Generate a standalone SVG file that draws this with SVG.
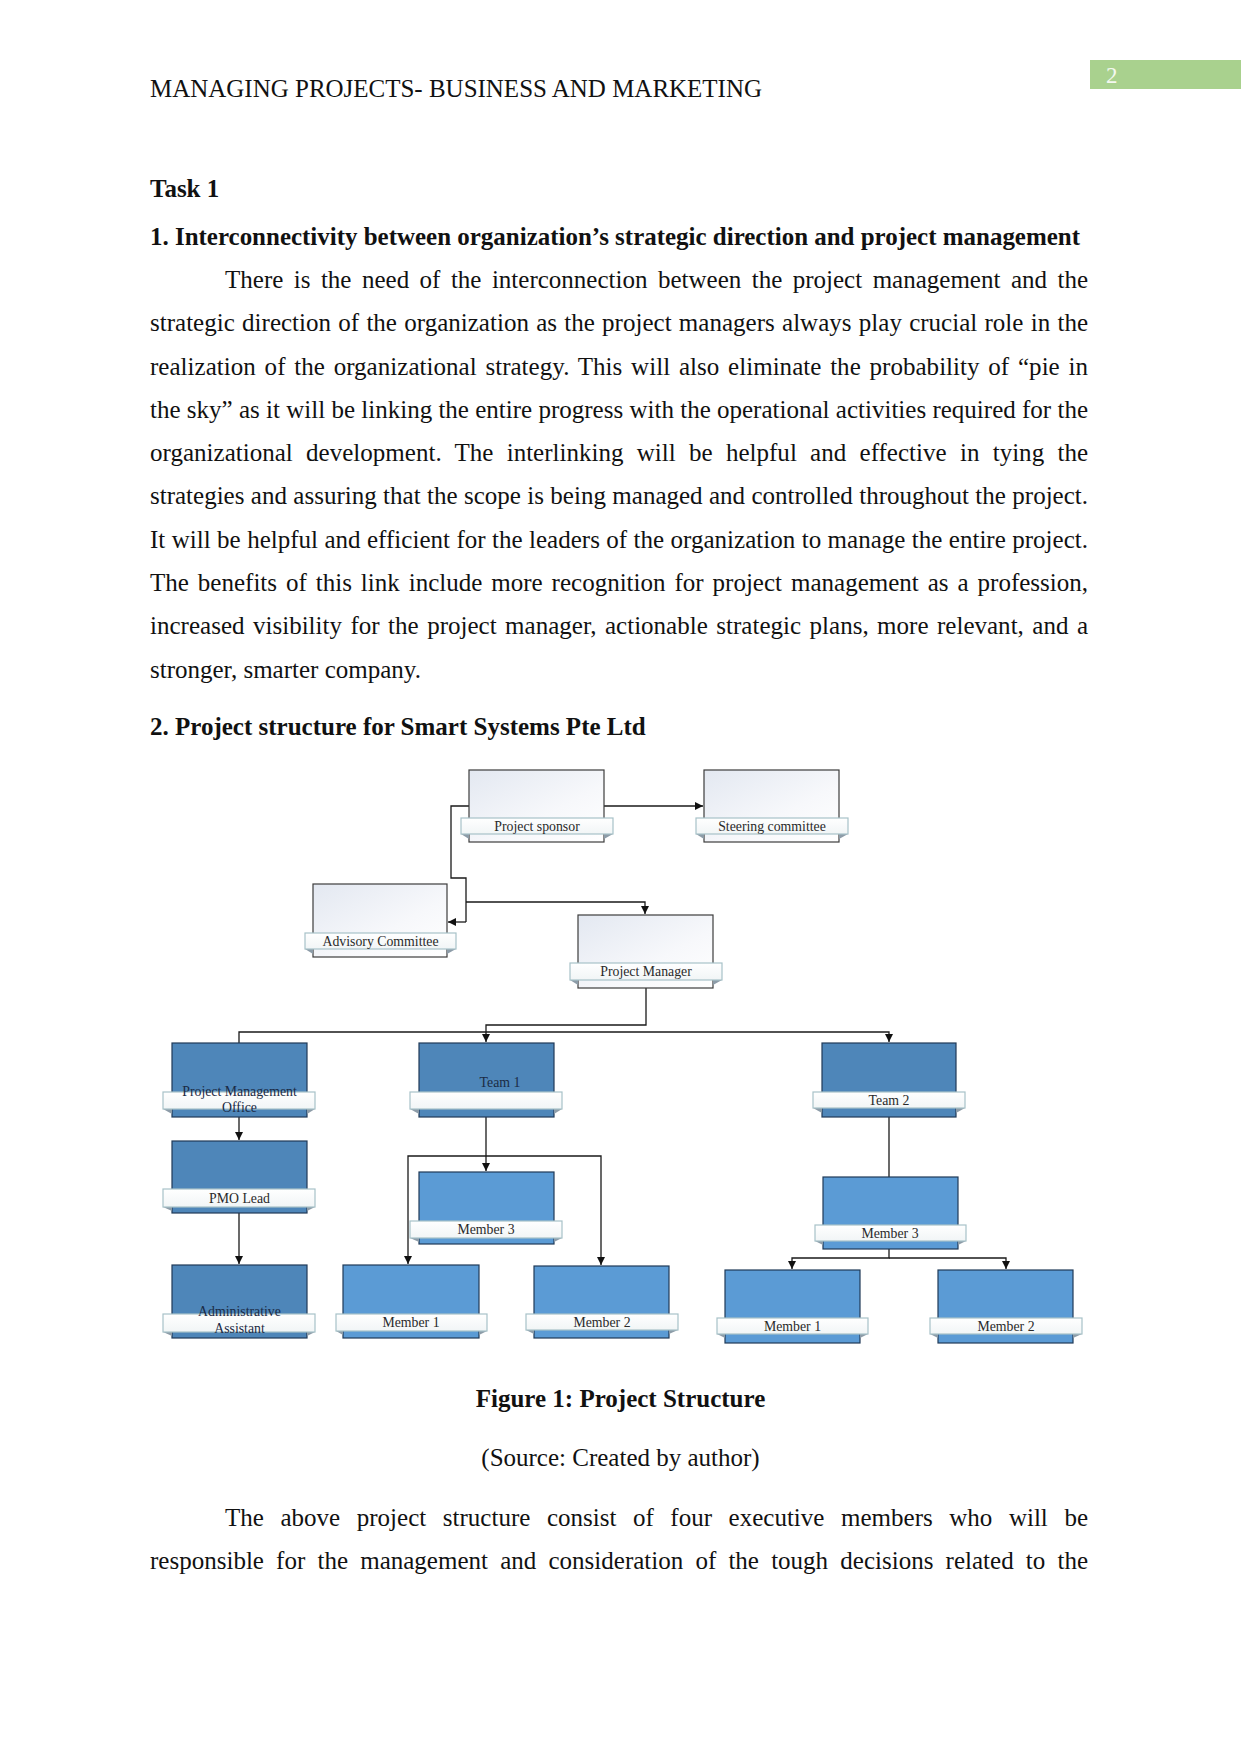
<svg xmlns="http://www.w3.org/2000/svg" width="1241" height="1754" viewBox="0 0 1241 1754">
<style>
.b{font-family:"Liberation Serif","Times New Roman",serif;font-size:25px;fill:#111}
.bb{font-family:"Liberation Serif","Times New Roman",serif;font-size:25px;font-weight:bold;fill:#111}
.lbl{font-family:"Liberation Serif","Times New Roman",serif;font-size:13.8px;fill:#2a2a2a;text-anchor:middle}
.lbd{font-family:"Liberation Serif","Times New Roman",serif;font-size:13.8px;fill:#1b2b45;text-anchor:middle}
.wbox{fill:url(#gw);stroke:#3c3c3c;stroke-width:1.2}
.dbox{fill:#4e86b9;stroke:#203a58;stroke-width:1.2}
.lbox{fill:#5b9bd5;stroke:#203a58;stroke-width:1.2}
.band{fill:url(#gb);stroke:#a7c2c8;stroke-width:1.2}
.fold{fill:#8d9ca8}
.con path{fill:none;stroke:#1a1a1a;stroke-width:1.3}
.con path.a{marker-end:url(#ah)}
</style>
<defs>
<linearGradient id="gw" x1="0" y1="0" x2="1" y2="1">
<stop offset="0" stop-color="#e3e8f1"/><stop offset="0.6" stop-color="#f7f8fb"/><stop offset="1" stop-color="#ffffff"/>
</linearGradient>
<linearGradient id="gb" x1="0" y1="0" x2="0" y2="1">
<stop offset="0" stop-color="#ffffff"/><stop offset="1" stop-color="#f1f5f6"/>
</linearGradient>
<marker id="ah" viewBox="0 0 10 10" refX="10" refY="5" markerWidth="9" markerHeight="8" markerUnits="userSpaceOnUse" orient="auto">
<path d="M0,0 L10,5 L0,10 z" fill="#111"/>
</marker>
</defs>
<rect width="1241" height="1754" fill="#ffffff"/>

<g id="page-header">
<rect x="1090" y="60" width="151" height="29" fill="#a9d18e"/>
<text x="1106" y="83" font-family="Liberation Serif, serif" font-size="23" fill="#f4f8f0">2</text>
<text class="b" x="150" y="97" textLength="612" lengthAdjust="spacingAndGlyphs">MANAGING PROJECTS- BUSINESS AND MARKETING</text>
</g>

<g id="body-text">
<text class="bb" x="150" y="197">Task 1</text>
<text class="bb" x="150" y="245" textLength="930" lengthAdjust="spacingAndGlyphs">1. Interconnectivity between organization’s strategic direction and project management</text>
<text class="b" x="225" y="288" word-spacing="4.2" textLength="863" lengthAdjust="spacing">There is the need of the interconnection between the project management and the</text>
<text class="b" x="150" y="331.2" word-spacing="1.0" textLength="938" lengthAdjust="spacing">strategic direction of the organization as the project managers always play crucial role in the</text>
<text class="b" x="150" y="374.5" word-spacing="2.5" textLength="938" lengthAdjust="spacing">realization of the organizational strategy. This will also eliminate the probability of “pie in</text>
<text class="b" x="150" y="417.8" textLength="938" lengthAdjust="spacing">the sky” as it will be linking the entire progress with the operational activities required for the</text>
<text class="b" x="150" y="461" word-spacing="7.0" textLength="938" lengthAdjust="spacing">organizational development. The interlinking will be helpful and effective in tying the</text>
<text class="b" x="150" y="504.3" word-spacing="0.15" textLength="938" lengthAdjust="spacing">strategies and assuring that the scope is being managed and controlled throughout the project.</text>
<text class="b" x="150" y="547.6" word-spacing="0.15" textLength="938" lengthAdjust="spacing">It will be helpful and efficient for the leaders of the organization to manage the entire project.</text>
<text class="b" x="150" y="590.9" word-spacing="2.7" textLength="938" lengthAdjust="spacing">The benefits of this link include more recognition for project management as a profession,</text>
<text class="b" x="150" y="634.2" word-spacing="2.2" textLength="938" lengthAdjust="spacing">increased visibility for the project manager, actionable strategic plans, more relevant, and a</text>
<text class="b" x="150" y="677.5">stronger, smarter company.</text>
<text class="bb" x="150" y="735">2. Project structure for Smart Systems Pte Ltd</text>
<text class="bb" x="620.5" y="1407" text-anchor="middle">Figure 1: Project Structure</text>
<text class="b" x="620.5" y="1466" text-anchor="middle">(Source: Created by author)</text>
<text class="b" x="225" y="1526" word-spacing="10.3" textLength="863" lengthAdjust="spacing">The above project structure consist of four executive members who will be</text>
<text class="b" x="150" y="1569" word-spacing="5.9" textLength="938" lengthAdjust="spacing">responsible for the management and consideration of the tough decisions related to the</text>
</g>

<g id="connectors" class="con">
<path class="a" d="M604,806 H703"/>
<path d="M469,806 H451 V878 H466 V922"/>
<path class="a" d="M466,922 H448"/>
<path class="a" d="M466,902 H645 V914"/>
<path class="a" d="M646,988 V1025 H486 V1042"/>
<path d="M239,1043 V1032 H486"/>
<path class="a" d="M486,1032 H889 V1042"/>
<path class="a" d="M239,1117 V1140"/>
<path class="a" d="M239,1213 V1264"/>
<path class="a" d="M486,1117 V1171"/>
<path class="a" d="M486,1156 H408 V1264"/>
<path class="a" d="M486,1156 H601 V1265"/>
<path d="M889,1117 V1177"/>
<path class="a" d="M889,1249 V1258 H792 V1269"/>
<path class="a" d="M889,1258 H1006 V1269"/>
</g>

<g id="node-project-sponsor">
<rect class="wbox" x="469" y="770" width="135" height="72"/>
<polygon class="fold" points="461,834 469,834 469,839"/><polygon class="fold" points="613,834 604,834 604,839"/>
<rect class="band" x="461" y="818" width="152" height="16"/>
<text class="lbl" x="537" y="830.5">Project sponsor</text>
</g>
<g id="node-steering-committee">
<rect class="wbox" x="704" y="770" width="135" height="72"/>
<polygon class="fold" points="696,834 704,834 704,839"/><polygon class="fold" points="848,834 839,834 839,839"/>
<rect class="band" x="696" y="818" width="152" height="16"/>
<text class="lbl" x="772" y="830.5">Steering committee</text>
</g>
<g id="node-advisory-committee">
<rect class="wbox" x="313" y="884" width="134" height="73"/>
<polygon class="fold" points="305,949 313,949 313,954"/><polygon class="fold" points="456,949 447,949 447,954"/>
<rect class="band" x="305" y="933" width="151" height="16"/>
<text class="lbl" x="380.5" y="945.5">Advisory Committee</text>
</g>
<g id="node-project-manager">
<rect class="wbox" x="578" y="915" width="135" height="73"/>
<polygon class="fold" points="570,980 578,980 578,985"/><polygon class="fold" points="722,980 713,980 713,985"/>
<rect class="band" x="570" y="963" width="152" height="17"/>
<text class="lbl" x="646" y="976">Project Manager</text>
</g>

<g id="node-pmo">
<rect class="dbox" x="172" y="1043" width="135" height="74"/>
<polygon class="fold" points="163,1109 172,1109 172,1114"/><polygon class="fold" points="315,1109 307,1109 307,1114"/>
<rect class="band" x="163" y="1092" width="152" height="17"/>
<text class="lbd" x="239.5" y="1096">Project Management</text>
<text class="lbd" x="239.5" y="1111.5">Office</text>
</g>
<g id="node-team1">
<rect class="dbox" x="419" y="1043" width="135" height="74"/>
<polygon class="fold" points="410,1109 419,1109 419,1114"/><polygon class="fold" points="562,1109 554,1109 554,1114"/>
<rect class="band" x="410" y="1092" width="152" height="17"/>
<text class="lbd" x="500" y="1087">Team 1</text>
</g>
<g id="node-team2">
<rect class="dbox" x="822" y="1043" width="134" height="74"/>
<polygon class="fold" points="813,1108 822,1108 822,1113"/><polygon class="fold" points="965,1108 956,1108 956,1113"/>
<rect class="band" x="813" y="1092" width="152" height="16"/>
<text class="lbl" x="889" y="1104.5">Team 2</text>
</g>
<g id="node-pmo-lead">
<rect class="dbox" x="172" y="1141" width="135" height="72"/>
<polygon class="fold" points="163,1207 172,1207 172,1211"/><polygon class="fold" points="315,1207 307,1207 307,1211"/>
<rect class="band" x="163" y="1189" width="152" height="18"/>
<text class="lbl" x="239.5" y="1202.5">PMO Lead</text>
</g>
<g id="node-admin-assistant">
<rect class="dbox" x="172" y="1265" width="135" height="73"/>
<polygon class="fold" points="163,1332 172,1332 172,1336"/><polygon class="fold" points="315,1332 307,1332 307,1336"/>
<rect class="band" x="163" y="1314" width="152" height="18"/>
<text class="lbd" x="239.5" y="1316">Administrative</text>
<text class="lbd" x="239.5" y="1333">Assistant</text>
</g>

<g id="node-team1-member3">
<rect class="lbox" x="419" y="1172" width="135" height="72"/>
<polygon class="fold" points="410,1238 419,1238 419,1242"/><polygon class="fold" points="562,1238 554,1238 554,1242"/>
<rect class="band" x="410" y="1221" width="152" height="17"/>
<text class="lbl" x="486" y="1233.5">Member 3</text>
</g>
<g id="node-team1-member1">
<rect class="lbox" x="343" y="1265" width="136" height="73"/>
<polygon class="fold" points="336,1331 343,1331 343,1335"/><polygon class="fold" points="487,1331 479,1331 479,1335"/>
<rect class="band" x="336" y="1314" width="151" height="17"/>
<text class="lbl" x="411" y="1326.5">Member 1</text>
</g>
<g id="node-team1-member2">
<rect class="lbox" x="534" y="1266" width="135" height="72"/>
<polygon class="fold" points="526,1330 534,1330 534,1334"/><polygon class="fold" points="678,1330 669,1330 669,1334"/>
<rect class="band" x="526" y="1314" width="152" height="16"/>
<text class="lbl" x="602" y="1326.5">Member 2</text>
</g>
<g id="node-team2-member3">
<rect class="lbox" x="823" y="1177" width="135" height="72"/>
<polygon class="fold" points="815,1241 823,1241 823,1245"/><polygon class="fold" points="966,1241 958,1241 958,1245"/>
<rect class="band" x="815" y="1225" width="151" height="16"/>
<text class="lbl" x="890" y="1237.5">Member 3</text>
</g>
<g id="node-team2-member1">
<rect class="lbox" x="725" y="1270" width="135" height="73"/>
<polygon class="fold" points="717,1334 725,1334 725,1338"/><polygon class="fold" points="868,1334 860,1334 860,1338"/>
<rect class="band" x="717" y="1318" width="151" height="16"/>
<text class="lbl" x="792.5" y="1330.5">Member 1</text>
</g>
<g id="node-team2-member2">
<rect class="lbox" x="938" y="1270" width="135" height="73"/>
<polygon class="fold" points="930,1334 938,1334 938,1338"/><polygon class="fold" points="1082,1334 1073,1334 1073,1338"/>
<rect class="band" x="930" y="1318" width="152" height="16"/>
<text class="lbl" x="1006" y="1330.5">Member 2</text>
</g>
</svg>
